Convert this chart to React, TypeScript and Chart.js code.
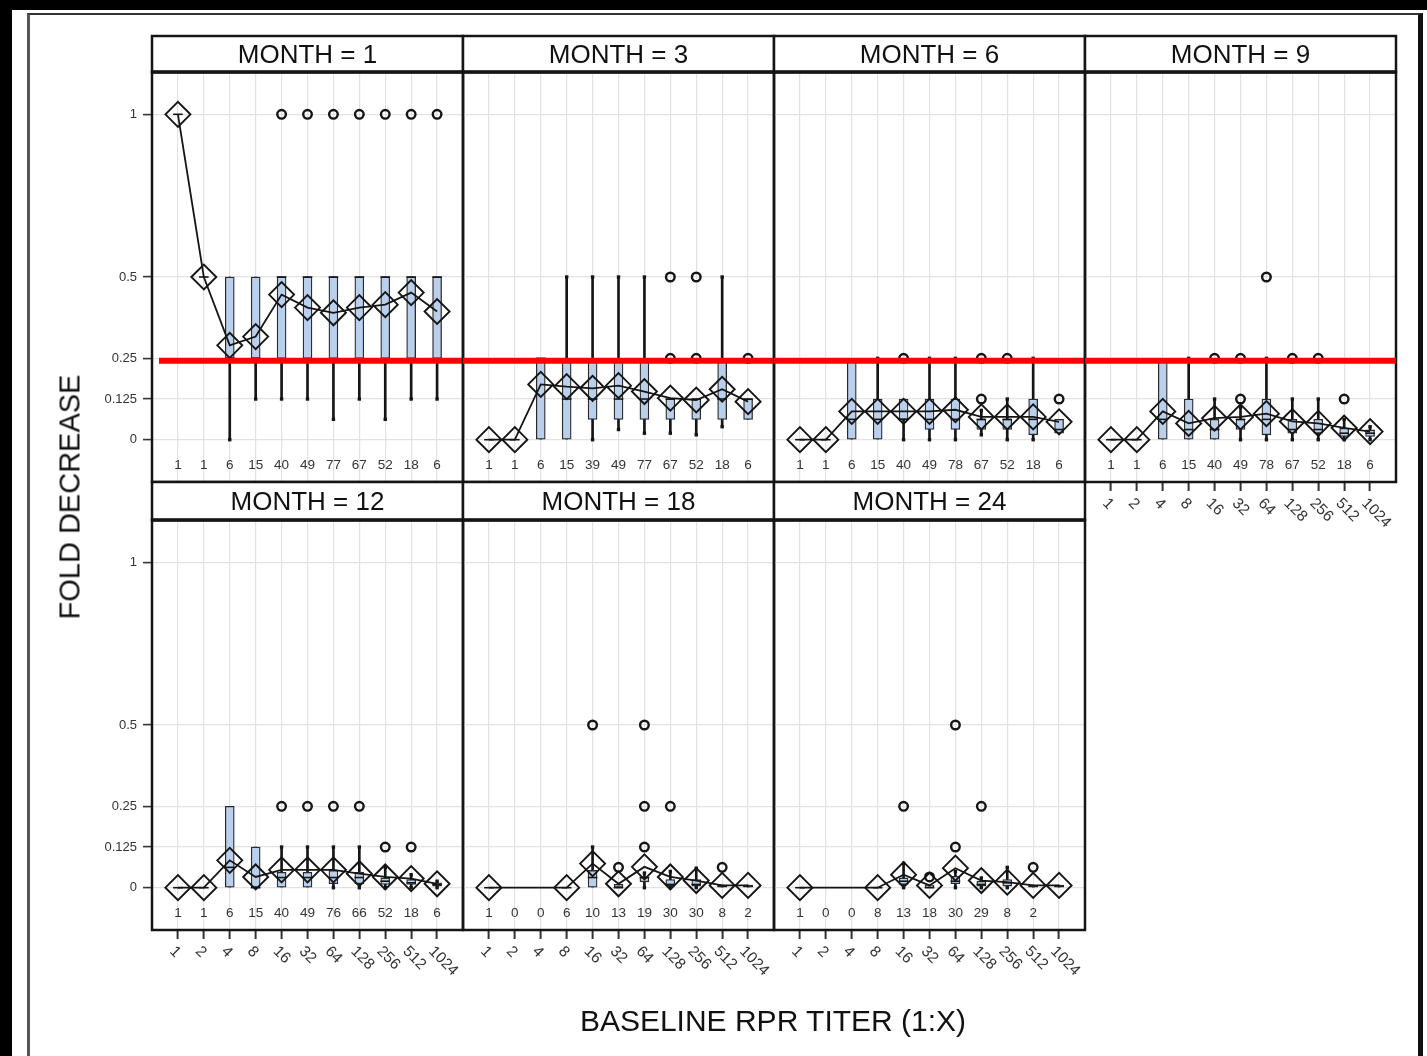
import React, { useEffect, useRef } from 'react';
import { Chart, registerables } from 'chart.js';

Chart.register(...registerables);

const FONT = '"Liberation Sans", Arial, Helvetica, sans-serif';

// ---------------- data ----------------
const TITERS = ['1', '2', '4', '8', '16', '32', '64', '128', '256', '512', '1024'];
const MONTHS = [1, 3, 6, 9, 12, 18, 24];
const Y_TICKS = [0, 0.125, 0.25, 0.5, 1];
const REF_VALUE = 0.243;

const COUNTS = [
  [1, 1, 6, 15, 40, 49, 77, 67, 52, 18, 6],
  [1, 1, 6, 15, 39, 49, 77, 67, 52, 18, 6],
  [1, 1, 6, 15, 40, 49, 78, 67, 52, 18, 6],
  [1, 1, 6, 15, 40, 49, 78, 67, 52, 18, 6],
  [1, 1, 6, 15, 40, 49, 76, 66, 52, 18, 6],
  [1, 0, 0, 6, 10, 13, 19, 30, 30, 8, 2],
  [1, 0, 0, 8, 13, 18, 30, 29, 8, 2, null],
];

const MEANS = [
  [1, 0.5, 0.29, 0.317, 0.446, 0.406, 0.39, 0.406, 0.415, 0.452, 0.394],
  [0, 0, 0.17, 0.163, 0.158, 0.166, 0.148, 0.128, 0.122, 0.155, 0.117],
  [0, 0, 0.087, 0.087, 0.087, 0.087, 0.092, 0.07, 0.07, 0.07, 0.055],
  [0, 0, 0.087, 0.05, 0.066, 0.07, 0.08, 0.056, 0.05, 0.036, 0.025],
  [0, 0, 0.084, 0.033, 0.055, 0.055, 0.055, 0.043, 0.033, 0.028, 0.012],
  [0, null, null, 0, 0.074, 0.012, 0.064, 0.033, 0.022, 0.007, 0.007],
  [0, null, null, 0, 0.04, 0.007, 0.06, 0.022, 0.017, 0.007, 0.007],
];

const MINS = [
  [1, 0.5, 0, 0.125, 0.125, 0.125, 0.0625, 0.125, 0.0625, 0.125, 0.125],
  [0, 0, 0, 0, 0, 0.03125, 0.02, 0.02, 0.015, 0.04, 0.0625],
  [0, 0, 0, 0, 0, 0, 0, 0.015, 0, 0, 0.02],
  [0, 0, 0, 0, 0, 0, 0, 0, 0, 0, 0],
  [0, 0, 0, 0, 0, 0, 0, 0, 0, 0, 0],
  [0, null, null, 0, 0, 0, 0, 0, 0, 0, 0],
  [0, null, null, 0, 0, 0, 0, 0, 0, 0, 0],
];

const Q1S = [
  [1, 0.5, 0.25, 0.25, 0.25, 0.25, 0.25, 0.25, 0.25, 0.25, 0.25],
  [0, 0, 0, 0, 0.0625, 0.0625, 0.0625, 0.0625, 0.0625, 0.0625, 0.0625],
  [0, 0, 0, 0, 0.0625, 0.03125, 0.03125, 0.03125, 0.03125, 0.015, 0.02],
  [0, 0, 0, 0, 0, 0.03125, 0.015, 0.02, 0.02, 0.01, 0.01],
  [0, 0, 0, 0, 0, 0, 0.012, 0.012, 0.01, 0.01, 0.005],
  [0, null, null, 0, 0, 0, 0.018, 0.005, 0.005, 0, 0],
  [0, null, null, 0, 0.01, 0, 0.012, 0.005, 0.005, 0, 0],
];

const MEDIANS = [
  [1, 0.5, 0.25, 0.25, 0.5, 0.5, 0.5, 0.5, 0.5, 0.5, 0.5],
  [0, 0, 0.25, 0.125, 0.125, 0.125, 0.125, 0.125, 0.125, 0.125, 0.125],
  [0, 0, 0.0625, 0.0625, 0.0625, 0.0625, 0.0625, 0.0625, 0.0625, 0.0625, 0.03125],
  [0, 0, 0.0625, 0.03125, 0.03125, 0.0625, 0.0625, 0.03125, 0.03125, 0.02, 0.02],
  [0, 0, 0.0625, 0, 0.03125, 0.03125, 0.03125, 0.03125, 0.02, 0.015, 0.01],
  [0, null, null, 0, 0.03125, 0, 0.03125, 0.01, 0.01, 0.005, 0.005],
  [0, null, null, 0, 0.02, 0, 0.02, 0.01, 0.015, 0.005, 0.005],
];

const Q3S = [
  [1, 0.5, 0.5, 0.5, 0.5, 0.5, 0.5, 0.5, 0.5, 0.5, 0.5],
  [0, 0, 0.25, 0.25, 0.25, 0.25, 0.25, 0.125, 0.125, 0.25, 0.125],
  [0, 0, 0.25, 0.125, 0.125, 0.125, 0.125, 0.0625, 0.0625, 0.125, 0.0625],
  [0, 0, 0.25, 0.125, 0.0625, 0.0625, 0.125, 0.0625, 0.0625, 0.035, 0.03],
  [0, 0, 0.25, 0.125, 0.047, 0.047, 0.053, 0.047, 0.03, 0.025, 0.015],
  [0, null, null, 0, 0.053, 0.01, 0.032, 0.025, 0.025, 0.008, 0.008],
  [0, null, null, 0, 0.03, 0.008, 0.035, 0.02, 0.025, 0.008, 0.008],
];

const MAXS = [
  [1, 0.5, 0.5, 0.5, 0.5, 0.5, 0.5, 0.5, 0.5, 0.5, 0.5],
  [0, 0, 0.25, 0.5, 0.5, 0.5, 0.5, 0.125, 0.125, 0.5, 0.125],
  [0, 0, 0.25, 0.25, 0.125, 0.25, 0.25, 0.09, 0.125, 0.25, 0.0625],
  [0, 0, 0.25, 0.25, 0.125, 0.1, 0.25, 0.125, 0.125, 0.0625, 0.04],
  [0, 0, 0.25, 0.125, 0.125, 0.125, 0.125, 0.125, 0.0625, 0.04, 0.02],
  [0, null, null, 0, 0.125, 0.01, 0.045, 0.05, 0.06, 0.008, 0.008],
  [0, null, null, 0, 0.075, 0.008, 0.05, 0.03, 0.0625, 0.008, 0.008],
];

// [category number (1..11), value]
const OUTLIERS = [
  [[5, 1], [6, 1], [7, 1], [8, 1], [9, 1], [10, 1], [11, 1]],
  [[8, 0.5], [8, 0.25], [9, 0.5], [9, 0.25], [11, 0.25]],
  [[5, 0.25], [8, 0.25], [8, 0.125], [9, 0.25], [11, 0.125]],
  [[5, 0.25], [6, 0.25], [6, 0.125], [7, 0.5], [8, 0.25], [9, 0.25], [10, 0.125]],
  [[5, 0.25], [6, 0.25], [7, 0.25], [8, 0.25], [9, 0.125], [10, 0.125]],
  [[5, 0.5], [6, 0.0625], [7, 0.5], [7, 0.25], [7, 0.125], [8, 0.25], [10, 0.0625]],
  [[5, 0.25], [6, 0.033], [7, 0.5], [7, 0.125], [8, 0.25], [10, 0.0625]],
];

// ---------------- layout ----------------
const COL_X = [152, 463, 774, 1085];
const ROW_Y = [72, 520];
const HEADER_H = [36, 38];
const PLOT_W = 311;
const PLOT_H = 410;
const PAD = 18;
const GRID_POS = [[0, 0], [0, 1], [0, 2], [0, 3], [1, 0], [1, 1], [1, 2]];
const X_AXIS_PANELS = [3, 4, 5, 6];
const REF_START = [0.27, 0, 0, 0];

const GRID_COLOR = '#e2e2e2';
const INK = '#151515';
const BOX_FILL = '#b9cfec';

function buildDatasets(p: number, row: number, col: number) {
  const cats = TITERS.map((_, i) => i + 1);
  const whiskers: any[] = [];
  const boxes: any[] = [];
  const medians: any[] = [];
  const caps: any[] = [];
  cats.forEach((x, i) => {
    const lo = MINS[p][i], q1 = Q1S[p][i], md = MEDIANS[p][i], q3 = Q3S[p][i], hi = MAXS[p][i];
    if (q1 === null || q3 === null) return;
    whiskers.push({ x, y: [lo, hi] });
    boxes.push({ x, y: [q1, q3] });
    medians.push({ x, y: md });
    if (lo < q1) caps.push({ x, y: lo });
    if (hi > q3) caps.push({ x, y: hi });
  });
  const means = cats.map((x, i) => ({ x, y: MEANS[p][i] }));
  const outs = OUTLIERS[p].map(([x, y]) => ({ x, y }));

  const ds: any[] = [
    {
      type: 'bar', label: 'whisker', data: whiskers, grouped: false,
      barThickness: 2, maxBarThickness: 2, backgroundColor: INK, borderWidth: 0, order: 7,
    },
    {
      type: 'scatter', label: 'caps', data: caps, pointStyle: 'rect', pointRadius: 2.4,
      pointBackgroundColor: INK, pointBorderColor: INK, pointBorderWidth: 0, order: 6,
    },
    {
      type: 'bar', label: 'box', data: boxes, grouped: false,
      barThickness: 9, maxBarThickness: 9, backgroundColor: BOX_FILL, borderColor: '#2a2a2a',
      borderWidth: 1.3, borderSkipped: false, order: 5,
    },
    {
      type: 'scatter', label: 'median', data: medians, pointStyle: 'line', pointRadius: 4.8,
      pointBorderColor: INK, pointBorderWidth: 1.6, order: 4,
    },
    {
      type: 'line', label: 'mean', data: means, spanGaps: true, tension: 0,
      borderColor: INK, borderWidth: 1.8, pointStyle: 'rectRot', pointRadius: 12.5,
      pointBorderColor: INK, pointBorderWidth: 1.9, pointBackgroundColor: 'rgba(0,0,0,0)', order: 3,
    },
    {
      type: 'scatter', label: 'outlier', data: outs, pointStyle: 'circle', pointRadius: 4.3,
      pointBorderColor: INK, pointBorderWidth: 2.4, pointBackgroundColor: 'rgba(0,0,0,0)', order: 2,
    },
  ];
  if (row === 0) {
    ds.push({
      type: 'line', label: 'reference', data: [{ x: REF_START[col], y: REF_VALUE }, { x: 12, y: REF_VALUE }],
      borderColor: '#ff0000', borderWidth: 6, pointRadius: 0, clip: false, order: 1,
    });
  }
  return ds;
}

function Panel({ p }: { p: number }) {
  const ref = useRef<HTMLCanvasElement | null>(null);
  const [row, col] = GRID_POS[p];
  const showY = col === 0;
  const showX = X_AXIS_PANELS.includes(p);
  const headerH = HEADER_H[row];
  const yAxisW = showY ? 62 : 0;
  const xAxisH = showX ? 72 : 0;
  const cw = PAD + yAxisW + PLOT_W + PAD;
  const ch = PAD + headerH + PLOT_H + xAxisH + PAD;
  const left = COL_X[col] - yAxisW - PAD;
  const top = ROW_Y[row] - headerH - PAD;

  useEffect(() => {
    if (!ref.current) return;
    const decor = {
      id: 'decor' + p,
      beforeDatasetsDraw(chart: any) {
        const { ctx, chartArea: a } = chart;
        ctx.save();
        ctx.strokeStyle = INK;
        ctx.lineWidth = 2.5;
        ctx.strokeRect(a.left, a.top, a.right - a.left, a.bottom - a.top);
        ctx.restore();
      },
      afterDatasetsDraw(chart: any) {
        const { ctx, chartArea: a, scales } = chart;
        const xs = scales.x, ys = scales.y;
        ctx.save();
        ctx.font = '13.5px ' + FONT;
        ctx.fillStyle = '#333';
        ctx.textAlign = 'center';
        ctx.textBaseline = 'middle';
        const cy = ys.getPixelForValue(-0.08);
        COUNTS[p].forEach((n, i) => {
          if (n === null) return;
          ctx.fillText(String(n), xs.getPixelForValue(i + 1), cy);
        });
        ctx.restore();
        // header strip
        ctx.save();
        const ht = a.top - headerH;
        ctx.fillStyle = '#fff';
        ctx.fillRect(a.left, ht, a.right - a.left, headerH);
        ctx.strokeStyle = INK;
        ctx.lineWidth = 2.5;
        ctx.strokeRect(a.left, ht, a.right - a.left, headerH);
        ctx.lineWidth = 3.5;
        ctx.beginPath();
        ctx.moveTo(a.left - 1, a.top);
        ctx.lineTo(a.right + 1, a.top);
        ctx.stroke();
        ctx.fillStyle = '#111';
        ctx.font = '26px ' + FONT;
        ctx.textAlign = 'center';
        ctx.textBaseline = 'middle';
        ctx.fillText('MONTH = ' + MONTHS[p], (a.left + a.right) / 2, ht + headerH / 2 + 2);
        ctx.restore();
        // rotated titer labels
        if (showX) {
          ctx.save();
          ctx.font = '15.5px ' + FONT;
          ctx.fillStyle = '#333';
          ctx.textAlign = 'left';
          ctx.textBaseline = 'middle';
          TITERS.forEach((t, i) => {
            const px = xs.getPixelForValue(i + 1);
            ctx.save();
            ctx.translate(px - 6, a.bottom + 19);
            ctx.rotate(Math.PI / 4);
            ctx.fillText(t, 0, 0);
            ctx.restore();
          });
          ctx.restore();
        }
      },
    };

    const chart = new Chart(ref.current, {
      type: 'scatter',
      data: { datasets: buildDatasets(p, row, col) },
      options: {
        responsive: false,
        maintainAspectRatio: false,
        animation: false,
        events: [],
        layout: { padding: { left: PAD, right: PAD, top: PAD + headerH, bottom: PAD } },
        plugins: { legend: { display: false }, tooltip: { enabled: false }, title: { display: false } },
        scales: {
          x: {
            type: 'linear',
            min: 0,
            max: 12,
            offset: false,
            afterBuildTicks: (s: any) => { s.ticks = TITERS.map((_, i) => ({ value: i + 1 })); },
            afterFit: (s: any) => { s.height = xAxisH; },
            grid: {
              offset: false, color: GRID_COLOR, lineWidth: 1.2, drawTicks: showX,
              tickLength: 9, tickColor: '#333', tickWidth: 2,
            },
            border: { display: false },
            ticks: { display: false },
          },
          y: {
            type: 'linear',
            min: -0.13,
            max: 1.13,
            afterBuildTicks: (s: any) => { s.ticks = Y_TICKS.map((v) => ({ value: v })); },
            afterFit: (s: any) => { s.width = yAxisW; },
            grid: {
              color: GRID_COLOR, lineWidth: 1.2, drawTicks: showY,
              tickLength: 9, tickColor: '#333', tickWidth: 1.6,
            },
            border: { display: false },
            ticks: {
              display: showY, padding: 6, color: '#333',
              font: { size: 13, family: FONT },
              callback: (v: any) => String(v),
            },
          },
        },
      } as any,
      plugins: [decor],
    } as any);
    return () => chart.destroy();
  }, []);

  return (
    <canvas
      ref={ref}
      width={cw}
      height={ch}
      style={{ position: 'absolute', left, top, width: cw, height: ch }}
    />
  );
}

export default function App() {
  return (
    <div style={{ position: 'absolute', left: 0, top: 0, width: 1427, height: 1056, background: '#000', overflow: 'hidden' }}>
      <div style={{ position: 'absolute', left: 12, top: 10, width: 1415, height: 1046, background: '#fff' }} />
      <div
        style={{
          position: 'absolute', left: 27, top: 13, width: 1396, height: 1100, boxSizing: 'border-box',
          borderLeft: '3px solid #555', borderTop: '2px solid #333', borderRight: '5px solid #111',
        }}
      />
      {MONTHS.map((_, p) => <Panel key={p} p={p} />)}
      <div
        style={{
          position: 'absolute', left: 70, top: 497, transform: 'translate(-50%, -50%) rotate(-90deg)',
          whiteSpace: 'nowrap', font: '29px ' + FONT, lineHeight: '1', color: '#111',
        }}
      >
        FOLD DECREASE
      </div>
      <div
        style={{
          position: 'absolute', left: 773, top: 1021, transform: 'translate(-50%, -50%)',
          whiteSpace: 'nowrap', font: '30px ' + FONT, lineHeight: '1', color: '#111',
        }}
      >
        BASELINE RPR TITER (1:X)
      </div>
    </div>
  );
}
